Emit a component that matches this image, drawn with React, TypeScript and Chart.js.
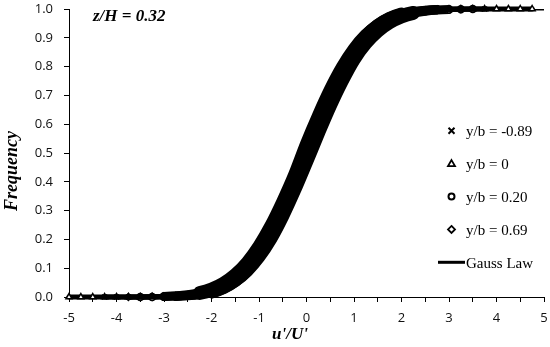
import React, { useEffect, useRef } from 'react';
import { Chart, registerables } from 'chart.js';

Chart.register(...registerables);

// u'/U' sample positions shared by all series
const uValues = [
  -5, -4.75, -4.5, -4.25, -4, -3.75, -3.5, -3.25, -3, -2.75,
  -2.5, -2.25, -2, -1.75, -1.5, -1.25, -1, -0.75, -0.5, -0.25,
  0, 0.25, 0.5, 0.75, 1, 1.25, 1.5, 1.75, 2, 2.25,
  2.5, 2.75, 3, 3.25, 3.5, 3.75, 4, 4.25, 4.5, 4.75, 5,
];

// Cumulative frequency, y/b = -0.89
const freqYbM089 = [
  null, null, null, 0, 0, 0.0001, 0.0003, 0.0008, 0.0017, 0.0039,
  0.008, 0.015, 0.0275, 0.0475, 0.0774, 0.1196, 0.1762, 0.247, 0.3312, 0.4247,
  0.5319, 0.6293, 0.719, 0.7967, 0.8599, 0.9082, 0.9429, 0.9664, 0.9812, 0.9901,
  0.9951, 0.9977, 0.999, 0.9996, 0.9998, 0.9999, null, null, null, null, null,
];

// Cumulative frequency, y/b = 0
const freqYb0 = [
  0, 0, 0, 0, 0.0001, 0.0001, 0.0003, 0.0007, 0.0014, 0.0032,
  0.0065, 0.0126, 0.0232, 0.0405, 0.0672, 0.106, 0.159, 0.227, 0.309, 0.401,
  0.4995, 0.598, 0.691, 0.773, 0.841, 0.894, 0.933, 0.96, 0.977, 0.988,
  0.994, 0.9972, 0.9988, 0.9995, 0.9998, 0.9999, 1, 1, 1, 1, null,
];

// Cumulative frequency, y/b = 0.20
const freqYb020 = [
  null, null, null, null, null, null, 0.0002, 0.0004, 0.001, 0.0023,
  0.0048, 0.0096, 0.0186, 0.0336, 0.0571, 0.0918, 0.1401, 0.2026, 0.281, 0.3708,
  0.4681, 0.5675, 0.6628, 0.7488, 0.8238, 0.8804, 0.9226, 0.9525, 0.9725, 0.985,
  0.992, 0.9962, 0.9983, 0.9992, 0.9997, null, null, null, null, null, null,
];

// Cumulative frequency, y/b = 0.69
const freqYb069 = [
  null, null, null, null, null, 0, 0.0001, 0.0003, 0.0008, 0.0019,
  0.0043, 0.0089, 0.0176, 0.0327, 0.0572, 0.0941, 0.1462, 0.215, 0.2994, 0.3963,
  0.5, 0.6037, 0.7006, 0.785, 0.8538, 0.9059, 0.9428, 0.9673, 0.9824, 0.9911,
  0.9957, 0.9981, 0.9992, 0.9997, null, null, null, null, null, null, null,
];

// Gauss law (normal cumulative distribution)
const gaussLaw = [
  0, 0, 0, 0, 0, 0.0001, 0.0002, 0.0006, 0.0013, 0.003,
  0.0062, 0.0122, 0.0228, 0.0401, 0.0668, 0.1056, 0.1587, 0.2266, 0.3085, 0.4013,
  0.5, 0.5987, 0.6915, 0.7734, 0.8413, 0.8944, 0.9332, 0.9599, 0.9772, 0.9878,
  0.9938, 0.997, 0.9987, 0.9994, 0.9998, 0.9999, 1, 1, 1, 1, 1,
];

const seriesLabels = ['y/b = -0.89', 'y/b = 0', 'y/b = 0.20', 'y/b = 0.69', 'Gauss Law'];
const xTickLabels = [-5, -4, -3, -2, -1, 0, 1, 2, 3, 4, 5];
const yTickLabels = ['0.0', '0.1', '0.2', '0.3', '0.4', '0.5', '0.6', '0.7', '0.8', '0.9', '1.0'];
const panelLabel = 'z/H = 0.32';
const xTitle = "u'/U'";
const yTitle = 'Frequency';

const SERIF = '"Liberation Serif", "Times New Roman", serif';
const TICKFONT = '"Open Sans", "Noto Sans", sans-serif';

function toPoints(values: (number | null)[]) {
  return uValues.map((u, i) => ({ x: u, y: values[i] as any }));
}

const bandWidth = (ctx: any) => {
  const y0 = ctx.p0.parsed.y;
  const y1 = ctx.p1.parsed.y;
  const t = Math.min(Math.max(y0, y1), 1 - Math.min(y0, y1));
  if (t < 0.003) return 5;
  if (t < 0.02) return 9;
  return 13;
};

const markerFill = (ctx: any) => {
  const y = ctx.raw && ctx.raw.y;
  if (y == null) return '#000';
  return y < 0.002 || y > 0.998 ? '#fff' : '#000';
};

function measured(label: string, values: (number | null)[], style: any) {
  return {
    label,
    data: toPoints(values),
    showLine: true,
    borderColor: '#000',
    borderWidth: 13,
    borderCapStyle: 'round',
    borderJoinStyle: 'round',
    cubicInterpolationMode: 'monotone',
    segment: { borderWidth: bandWidth },
    pointStyle: style,
    pointRadius: 3.5,
    pointBorderWidth: 1.5,
    pointBorderColor: '#000',
    pointBackgroundColor: markerFill,
    clip: 10,
  };
}

const overlayPlugin = {
  id: 'overlayText',
  afterDraw(chart: any) {
    const ctx = chart.ctx as CanvasRenderingContext2D;
    ctx.save();
    ctx.fillStyle = '#000';
    ctx.strokeStyle = '#000';
    ctx.textBaseline = 'alphabetic';

    ctx.font = `bold italic 17px ${SERIF}`;
    ctx.textAlign = 'left';
    ctx.fillText(panelLabel, 93, 20.5);

    ctx.textAlign = 'center';
    ctx.fillText(xTitle, 290, 339);

    ctx.save();
    ctx.translate(16.5, 171);
    ctx.rotate(-Math.PI / 2);
    ctx.font = `bold italic 18px ${SERIF}`;
    ctx.fillText(yTitle, 0, 0);
    ctx.restore();

    // legend
    const mx = 451.5;
    const tx = 466;
    ctx.font = `15px ${SERIF}`;
    ctx.textAlign = 'left';
    seriesLabels.forEach((label, i) => {
      const cy = 130.7 + i * 32.9;
      ctx.lineWidth = 2;
      ctx.beginPath();
      if (i === 0) {
        ctx.moveTo(mx - 3, cy - 3);
        ctx.lineTo(mx + 3, cy + 3);
        ctx.moveTo(mx + 3, cy - 3);
        ctx.lineTo(mx - 3, cy + 3);
        ctx.stroke();
      } else if (i === 1) {
        ctx.lineWidth = 1.8;
        ctx.moveTo(mx, cy - 3.5);
        ctx.lineTo(mx + 3.5, cy + 2.5);
        ctx.lineTo(mx - 3.5, cy + 2.5);
        ctx.closePath();
        ctx.stroke();
      } else if (i === 2) {
        ctx.arc(mx, cy, 3, 0, Math.PI * 2);
        ctx.stroke();
      } else if (i === 3) {
        ctx.lineWidth = 1.8;
        ctx.moveTo(mx, cy - 3.5);
        ctx.lineTo(mx + 3.5, cy);
        ctx.lineTo(mx, cy + 3.5);
        ctx.lineTo(mx - 3.5, cy);
        ctx.closePath();
        ctx.stroke();
      } else {
        ctx.lineWidth = 3;
        ctx.moveTo(438, cy);
        ctx.lineTo(465, cy);
        ctx.stroke();
      }
      ctx.fillText(label, tx, cy + 5.5);
    });
    ctx.restore();
  },
};

export default function App() {
  const canvasRef = useRef<HTMLCanvasElement | null>(null);

  useEffect(() => {
    if (!canvasRef.current) return;
    const chart = new Chart(canvasRef.current, {
      type: 'scatter',
      data: {
        datasets: [
          measured(seriesLabels[0], freqYbM089, 'crossRot'),
          measured(seriesLabels[1], freqYb0, 'triangle'),
          measured(seriesLabels[2], freqYb020, 'circle'),
          measured(seriesLabels[3], freqYb069, 'rectRot'),
          {
            label: seriesLabels[4],
            data: toPoints(gaussLaw),
            showLine: true,
            borderColor: '#000',
            borderWidth: 3,
            pointRadius: 0,
            cubicInterpolationMode: 'monotone',
          } as any,
        ] as any,
      },
      options: {
        animation: false,
        responsive: true,
        maintainAspectRatio: false,
        devicePixelRatio: 1,
        layout: { padding: { left: 0, right: 6, top: 9, bottom: 0 } },
        plugins: {
          legend: { display: false },
          tooltip: { enabled: false },
        },
        scales: {
          x: {
            type: 'linear',
            min: -5,
            max: 5,
            afterFit: (s: any) => {
              s.height = 50;
              s.paddingLeft = 0;
              s.paddingRight = 0;
            },
            border: { display: true, color: '#000', width: 1 },
            grid: { display: true, drawOnChartArea: false, drawTicks: true, tickLength: 5, color: '#000' },
            ticks: {
              stepSize: 0.5,
              autoSkip: false,
              maxRotation: 0,
              padding: 8,
              color: '#111',
              font: { family: TICKFONT, size: 13 },
              callback: (v: any) => (xTickLabels.includes(Number(v)) ? String(v) : ''),
            },
          },
          y: {
            type: 'linear',
            min: 0,
            max: 1,
            afterFit: (s: any) => {
              s.width = 69;
              s.paddingTop = 0;
              s.paddingBottom = 0;
            },
            border: { display: true, color: '#000', width: 1 },
            grid: { display: true, drawOnChartArea: false, drawTicks: true, tickLength: 5, color: '#000' },
            ticks: {
              stepSize: 0.1,
              padding: 11,
              color: '#111',
              font: { family: TICKFONT, size: 13 },
              callback: (v: any) => yTickLabels[Math.round(Number(v) * 10)],
            },
          },
        },
      } as any,
      plugins: [overlayPlugin],
    });
    return () => chart.destroy();
  }, []);

  return (
    <div style={{ position: 'absolute', left: 0, top: 0, width: 550, height: 347 }}>
      <canvas ref={canvasRef} />
    </div>
  );
}
